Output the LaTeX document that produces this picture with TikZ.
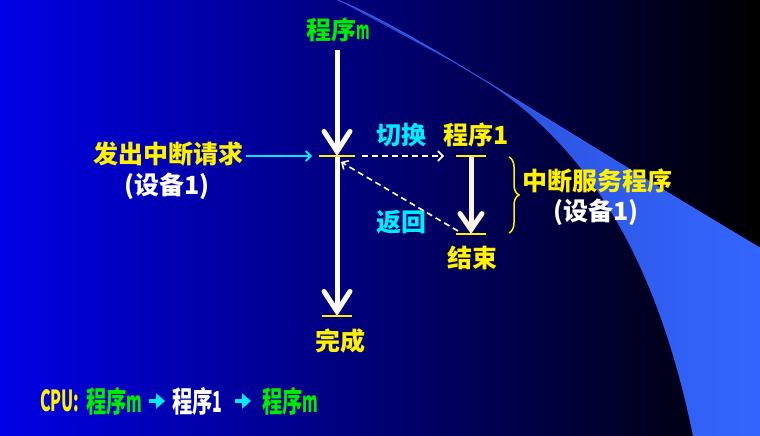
\documentclass[tikz,border=0pt]{standalone}
\usepackage{fontspec}
\usetikzlibrary{arrows.meta,decorations.pathreplacing,positioning}
\newfontfamily\cjk{Noto Sans CJK SC}
\newfontfamily\cjkn{Noto Sans CJK SC}[FakeStretch=0.7]
\newfontfamily\halfw{Noto Sans CJK SC}[FakeStretch=0.55]
\definecolor{bgblue}{RGB}{0,0,230}
\definecolor{swoosh}{RGB}{51,102,255}
\definecolor{swooshdk}{RGB}{40,70,200}
\definecolor{lgreen}{RGB}{0,235,0}
\definecolor{lcyan}{RGB}{0,235,255}
\definecolor{cream}{RGB}{255,242,225}
\newcommand\hm{{\halfw m}}

\begin{document}
\begin{tikzpicture}[x=1pt,y=-1pt,
  lbl/.style={font=\cjk\bfseries\fontsize{25}{28}\selectfont, inner sep=0pt},
  bot/.style={font=\cjkn\bfseries\fontsize{29}{32}\selectfont, inner sep=0pt, anchor=west},
  mainarr/.style={white, line width=5pt, -{Straight Barb[length=20pt,width=26pt,line cap=round]}},
  israrr/.style={cream, line width=5pt, -{Straight Barb[length=16pt,width=22pt,line cap=round]}},
  dasharr/.style={white, line width=1.6pt, dash pattern=on 6pt off 4pt, -{Straight Barb[length=5pt,width=10pt]}},
  reqarr/.style={lcyan, line width=1.8pt, -{Straight Barb[length=5pt,width=10pt]}},
  tick/.style={yellow, line width=2.5pt},
  botarr/.style={lcyan, line width=4.5pt, -{Triangle[length=9pt,width=15pt]}}]
\useasboundingbox (0,0) rectangle (760,436);
\shade[left color=bgblue, right color=black] (0,0) rectangle (760,436);
\shade[left color=swooshdk, right color=swoosh] (338,0) .. controls (420,35) and (520,105) .. (760,248)
  -- (760,436) -- (693,436) .. controls (655,250) and (580,130) .. (455,63) -- cycle;
\draw[swoosh, line width=0.8pt] (338,0) .. controls (420,35) and (520,105) .. (760,248);

\node[lbl, lgreen] (pm) at (338,30) {程序\hm};
\coordinate (topm) at (337,50);
\coordinate (int) at (337,156);
\coordinate (done) at (337,316);
\coordinate (s1) at (471,156);
\coordinate (e1) at (471,234);

\draw[mainarr] (topm) -- (int);
\draw[mainarr] (int) -- (done);
\draw[israrr] (s1) -- (e1);
\draw[tick] ([xshift=-18pt]int) -- ([xshift=18pt]int);
\draw[tick] ([xshift=-15pt]done) -- ([xshift=15pt]done);
\draw[tick] ([xshift=-15pt]s1) -- ([xshift=15pt]s1);
\draw[tick] ([xshift=-15pt]e1) -- ([xshift=15pt]e1);

\node[lbl, yellow] (req) at (168,154) {发出中断请求};
\node[lbl, white] (dev) at (167,186) {(设备1)};
\node[lbl, lcyan] (sw) at (401,135) {切换};
\node[lbl, yellow] (p1) at (476,135) {程序1};
\node[lbl, lcyan] (ret) at (401,222) {返回};
\node[lbl, yellow] (fin) at (472,258) {结束};
\node[lbl, yellow] (wc) at (340,341) {完成};
\node[lbl, yellow] (isr) at (597,181) {中断服务程序};
\node[lbl, white] (dev2) at (596,212) {(设备1)};

\draw[reqarr, shorten <=3pt] (req.east |- int) -- ([xshift=-25pt]int);
\draw[dasharr] ([xshift=25pt]int) -- ([xshift=-27pt]s1);
\draw[dasharr] ([xshift=-13pt,yshift=3pt]e1) -- ([xshift=4pt,yshift=-6pt]int);
\draw[yellow, line width=1.5pt, decorate, decoration={brace, amplitude=10pt}] (509,157) -- (509,233);

\node[bot, yellow] (cpu) at (40,401) {{\halfw CPU:}};
\node[bot, lgreen] (b1) at (86,401) {程序\hm};
\node[bot, white] (b2) at (172,401) {程序{\halfw 1}};
\node[bot, lgreen] (b3) at (262,401) {程序\hm};
\draw[botarr, shorten <=6pt, shorten >=7pt] (b1) -- (b2);
\draw[botarr, shorten <=12pt, shorten >=11pt] (b2) -- (b3);
\end{tikzpicture}
\end{document}
